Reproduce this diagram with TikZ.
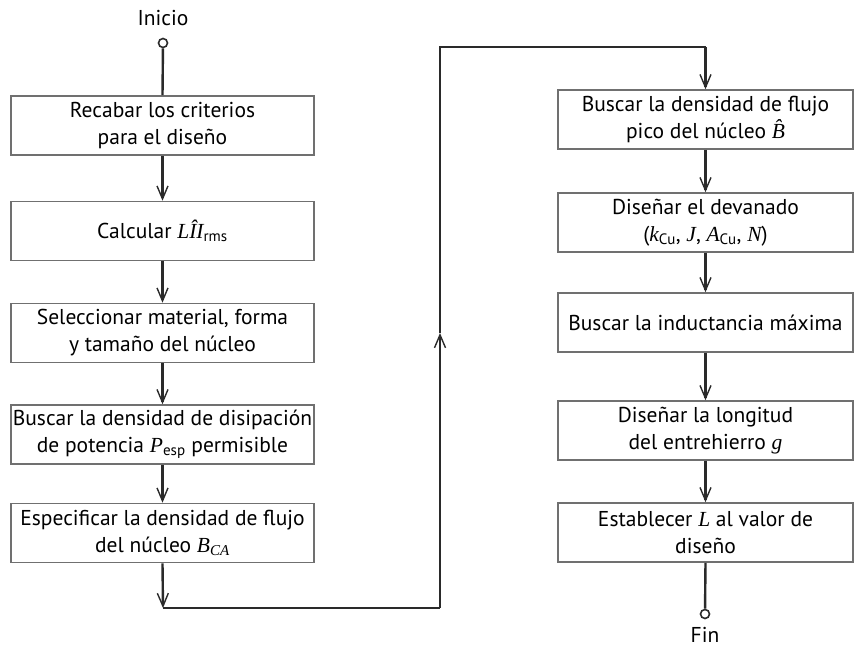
\documentclass[tikz,border=0pt]{standalone}
\usepackage{fontspec}
\setmainfont{PT Sans}
\newfontfamily\tms{Liberation Serif}
\usetikzlibrary{arrows.meta}
\newcommand\vi[1]{{\tms\itshape #1}}
\newcommand\sbs[1]{\textsubscript{#1}}
\definecolor{boxgray}{HTML}{707070}
\definecolor{linegray}{HTML}{2A2A2A}
\tikzset{
  stepbox/.style={draw=boxgray, line width=1.6pt, rectangle, minimum height=59pt, inner sep=0pt, align=center, font=\fontsize{21.5}{27}\selectfont},
  leftbox/.style={stepbox, minimum width=303pt},
  rightbox/.style={stepbox, minimum width=295pt},
  conn/.style={draw=linegray, line width=2.4pt},
  arr/.style={conn, -{Straight Barb[length=13pt,width=11pt,line width=1.4pt]}},
  term/.style={circle, draw=linegray, line width=1.6pt, fill=white, minimum size=9pt, inner sep=0pt},
  lbl/.style={font=\fontsize{21.5}{24}\selectfont, inner sep=0pt}
}
\begin{document}
\begin{tikzpicture}[x=1pt,y=-1pt]
\useasboundingbox (0,0) rectangle (855,648);
% left column
\node[lbl] (inicio) at (163,18) {Inicio};
\node[leftbox] (L1) at (162.5,125.5) {Recabar los criterios\\para el diseño};
\node[leftbox] (L2) at (162.5,231) {Calcular \vi{L\^{I}I}\sbs{rms}};
\node[leftbox] (L3) at (162.5,333) {Seleccionar material, forma\\y tamaño del núcleo};
\node[leftbox] (L4) at (162.5,434.5) {Buscar la densidad de disipación\\de potencia \vi{P}\sbs{esp} permisible};
\node[leftbox] (L5) at (162.5,533) {Especificar la densidad de flujo\\del núcleo \vi{B}\sbs{\vi{CA}}};
% right column
\node[rightbox] (R1) at (705.5,119.5) {Buscar la densidad de flujo\\pico del núcleo \vi{\^{B}}};
\node[rightbox] (R2) at (705.5,222.5) {Diseñar el devanado\\(\vi{k}\sbs{Cu}, \vi{J}, \vi{A}\sbs{Cu}, \vi{N})};
\node[rightbox] (R3) at (705.5,322.5) {Buscar la inductancia máxima};
\node[rightbox] (R4) at (705.5,430.5) {Diseñar la longitud\\del entrehierro \vi{g}};
\node[rightbox] (R5) at (705.5,532.5) {Establecer \vi{L} al valor de\\diseño};
\node[lbl] (fin) at (705,635) {Fin};
% terminals
\node[term] (start) at (163,43) {};
\node[term] (stop) at (705,614) {};
% route coordinates
\coordinate (c1) at (163,608);
\coordinate (c2) at (440,608);
\coordinate (m) at (440,333);
\coordinate (c3) at (440,47);
\coordinate (c4) at (705.5,47);
% connectors
\draw[conn] (start) -- (L1.north);
\draw[arr] (L1) -- (L2);
\draw[arr] (L2) -- (L3);
\draw[arr] (L3) -- (L4);
\draw[arr] (L4) -- (L5);
\draw[arr] (L5.south) -- (c1);
\draw[conn] (c1) -- (c2);
\draw[arr] (c2) -- (m);
\draw[conn, line join=miter] (m) -- (c3) -- (c4);
\draw[arr] (c4) -- (R1.north);
\draw[arr] (R1) -- (R2);
\draw[arr] (R2) -- (R3);
\draw[arr] (R3) -- (R4);
\draw[arr] (R4) -- (R5);
\draw[conn] (R5.south) -- (stop);
\end{tikzpicture}
\end{document}
